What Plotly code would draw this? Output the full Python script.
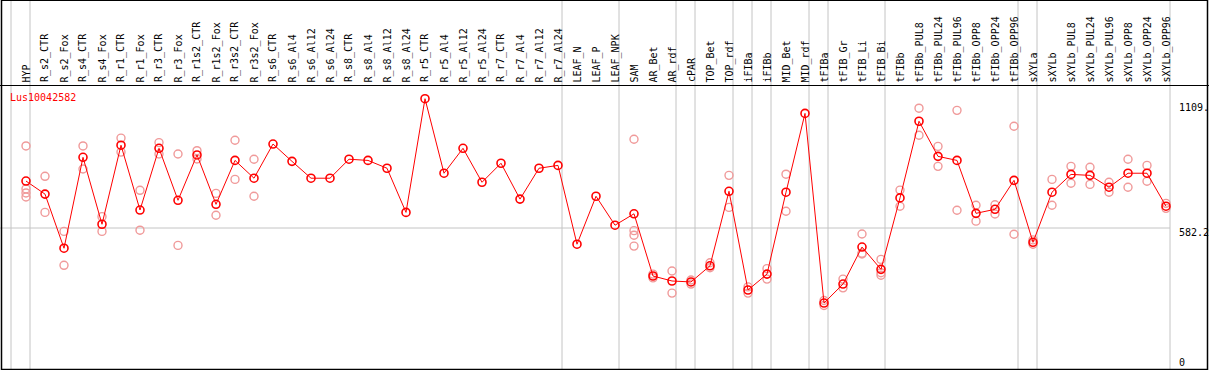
import plotly.graph_objects as go

W, H = 1209, 370

categories = ["HYP", "R_s2_CTR", "R_s2_Fox", "R_s4_CTR", "R_s4_Fox", "R_r1_CTR", "R_r1_Fox",
              "R_r3_CTR", "R_r3_Fox", "R_r1s2_CTR", "R_r1s2_Fox", "R_r3s2_CTR", "R_r3s2_Fox",
              "R_s6_CTR", "R_s6_Al4", "R_s6_Al12", "R_s6_Al24", "R_s8_CTR", "R_s8_Al4",
              "R_s8_Al12", "R_s8_Al24", "R_r5_CTR", "R_r5_Al4", "R_r5_Al12", "R_r5_Al24",
              "R_r7_CTR", "R_r7_Al4", "R_r7_Al12", "R_r7_Al24", "LEAF_N", "LEAF_P", "LEAF_NPK",
              "SAM", "AR_Bet", "AR_rdf", "cPAR", "TOP_Bet", "TOP_rdf", "iFIBa", "iFIBb",
              "MID_Bet", "MID_rdf", "tFIBa", "tFIB_Gr", "tFIB_Li", "tFIB_Bi", "tFIBb",
              "tFIBb_PUL8", "tFIBb_PUL24", "tFIBb_PUL96", "tFIBb_OPP8", "tFIBb_OPP24",
              "tFIBb_OPP96", "sXYLa", "sXYLb", "sXYLb_PUL8", "sXYLb_PUL24", "sXYLb_PUL96",
              "sXYLb_OPP8", "sXYLb_OPP24", "sXYLb_OPP96"]

means = [780, 725, 497, 880, 598, 931, 658, 918, 699, 890, 682, 867, 792,
         936, 863, 792, 792, 872, 867, 834, 648, 1127, 813, 918, 775, 855, 704, 834, 846,
         514, 716, 594, 642, 380, 359, 355, 423, 737, 321, 388, 733, 1065, 266, 346, 502,
         408, 709, 1032, 884, 867, 644, 661, 783, 522, 733, 808, 804, 754, 813, 813, 674]

replicates = [
    [928, 747, 730, 713], [800, 648], [568, 425], [928, 831], [630, 568], [961, 902],
    [741, 573], [942, 894], [894, 509], [908, 873], [728, 636], [952, 787], [872, 716],
    [], [], [], [], [], [], [], [], [], [], [], [], [], [], [], [], [], [], [],
    [956, 571, 552, 506], [388, 372], [401, 308], [363, 346], [436, 415], [804, 669],
    [334, 308], [411, 367], [809, 653], [], [277, 256], [367, 330], [557, 473, 476],
    [450, 394, 383], [742, 674], [1087, 973], [926, 842], [1078, 657], [678, 611],
    [680, 641], [1011, 556], [532, 514], [787, 678], [842, 771], [838, 766], [775, 733],
    [872, 754], [846, 779], [686, 665]]

separators_after = [-1, 0, 28, 31, 34, 35, 37, 38, 39, 41, 42, 45, 52, 53, 60]
y_ticks = ["1109.", "582.2", "0"]
gene = "Lus10042582"

idx = list(range(len(categories)))
rx, ry = [], []
for i, reps in enumerate(replicates):
    for v in reps:
        rx.append(i)
        ry.append(v)

fig = go.Figure()
fig.add_trace(go.Scatter(x=rx, y=ry, mode="markers",
                         marker=dict(symbol="circle-open", size=8, color="#f09a9a",
                                     line=dict(width=1.4, color="#f09a9a")),
                         hoverinfo="skip"))
fig.add_trace(go.Scatter(x=idx, y=means, mode="lines+markers",
                         line=dict(color="#ff0000", width=1),
                         marker=dict(symbol="circle-open", size=8, color="#ff0000",
                                     line=dict(width=1.6, color="#ff0000")),
                         text=categories, hoverinfo="text+y"))

# pixel -> axis mappings
step = 19.0
x0pix = 26.0
xr = [(0 - x0pix) / step, (W - x0pix) / step]
k = 4.213
y0pix = 366.2
yr = [(y0pix - H) * k, (y0pix - 0) * k]

shapes = []
gray = "#c4c4c4"
for s in separators_after:
    xs = s + 4.0 / step
    shapes.append(dict(type="line", xref="x", yref="paper", x0=xs, x1=xs, y0=0, y1=1,
                       line=dict(color=gray, width=1), layer="below"))
shapes.append(dict(type="line", xref="paper", yref="y", x0=0, x1=1170 / W, y0=582.2, y1=582.2,
                   line=dict(color=gray, width=1), layer="below"))
shapes.append(dict(type="line", xref="paper", yref="paper", x0=0, x1=1, y0=1 - 85.5 / H, y1=1 - 85.5 / H,
                   line=dict(color="black", width=1.2)))
shapes.append(dict(type="rect", xref="paper", yref="paper", x0=1.5 / W, x1=1207.5 / W,
                   y0=1 - 369.5 / H, y1=1 - 0.2 / H, line=dict(color="black", width=1.5),
                   fillcolor="rgba(0,0,0,0)"))

annotations = []
for i, c in enumerate(categories):
    annotations.append(dict(x=i, y=1 - 83.5 / H, xref="x", yref="paper", text=c, textangle=-90,
                            showarrow=False, xanchor="center", yanchor="bottom",
                            font=dict(family="DejaVu Sans Mono", size=10, color="black"),
                            borderpad=0))
tick_pix = [107.3, 232.0, 362.7]
for t, py in zip(y_ticks, tick_pix):
    annotations.append(dict(x=1178 / W, y=1 - py / H, xref="paper", yref="paper", text=t,
                            showarrow=False, xanchor="left", yanchor="middle",
                            font=dict(family="DejaVu Sans Mono", size=10, color="black"),
                            borderpad=0))
annotations.append(dict(x=9 / W, y=1 - 97 / H, xref="paper", yref="paper", text=gene,
                        showarrow=False, xanchor="left", yanchor="middle",
                        font=dict(family="DejaVu Sans Mono", size=10, color="#ff0000"),
                        borderpad=0))

fig.update_layout(width=W, height=H, autosize=False,
                  margin=dict(l=0, r=0, t=0, b=0, pad=0),
                  paper_bgcolor="white", plot_bgcolor="white",
                  showlegend=False,
                  xaxis=dict(range=xr, visible=False, showgrid=False, zeroline=False, fixedrange=True),
                  yaxis=dict(range=yr, visible=False, showgrid=False, zeroline=False, fixedrange=True),
                  shapes=shapes, annotations=annotations)

fig.write_html("out.html", config={"displayModeBar": False},
               post_script="document.body.style.margin='0';document.body.style.overflow='hidden';")
